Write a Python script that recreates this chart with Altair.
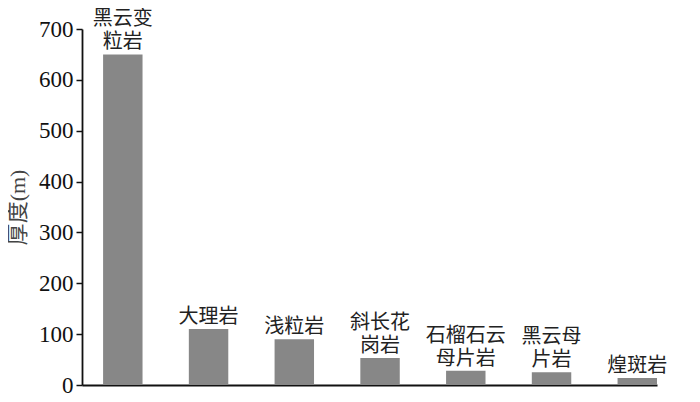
import altair as alt
import pandas as pd

categories = ["黑云变粒岩", "大理岩", "浅粒岩", "斜长花岗岩", "石榴石云母片岩", "黑云母片岩", "煌斑岩"]
label_top = ["黑云变", "", "", "斜长花", "石榴石云", "黑云母", ""]
label_bottom = ["粒岩", "大理岩", "浅粒岩", "岗岩", "母片岩", "片岩", "煌斑岩"]
thickness = [650, 110, 90, 53, 28, 25, 14]
y_ticks = [0, 100, 200, 300, 400, 500, 600, 700]

df = pd.DataFrame({"cat": categories, "top": label_top,
                   "bottom": label_bottom, "value": thickness})

x = alt.X("cat:N", sort=categories,
          scale=alt.Scale(paddingInner=0.54, paddingOuter=0.123, align=1),
          axis=alt.Axis(labels=False, ticks=False, title=None,
                        domainColor="#111111", domainWidth=1.8))
y = alt.Y("value:Q", scale=alt.Scale(domain=[0, 700], nice=False),
          axis=alt.Axis(values=y_ticks, title="厚度(m)", grid=False,
                        labelFont="Liberation Serif", labelFontSize=23,
                        labelColor="#111111", labelPadding=3,
                        tickSize=6, tickColor="#111111", tickWidth=1.5,
                        domainColor="#111111", domainWidth=1.8,
                        titleFont="Liberation Serif, Noto Sans CJK SC",
                        titleFontSize=22, titleFontWeight="normal",
                        titleColor="#444444", titlePadding=9))

bars = alt.Chart(df).mark_bar(color="#878787").encode(x=x, y=y)
xt = alt.X("cat:N", sort=categories)
text_bottom = alt.Chart(df).mark_text(
    baseline="bottom", dy=-2, fontSize=20,
    font="Noto Sans CJK SC", color="#222222"
).encode(x=xt, y="value:Q", text="bottom:N")
text_top = alt.Chart(df).mark_text(
    baseline="bottom", dy=-25, fontSize=20,
    font="Noto Sans CJK SC", color="#222222"
).encode(x=xt, y="value:Q", text="top:N")

chart = (bars + text_bottom + text_top).properties(
    width=575, height=356,
    autosize=alt.AutoSizeParams(type="none"),
    padding={"left": 74, "top": 21, "right": 20, "bottom": 9},
).configure_view(stroke=None)

chart.save("out.html", embed_options={"renderer": "svg", "actions": False})
